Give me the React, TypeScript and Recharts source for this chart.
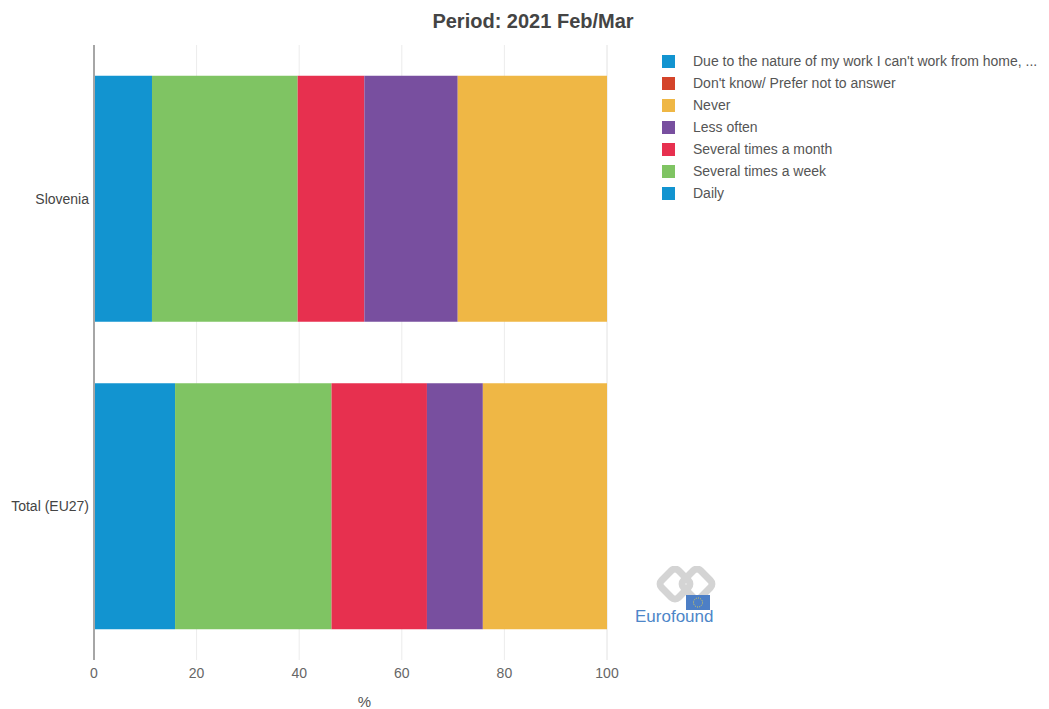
import React from "react";
import {
  BarChart,
  Bar,
  XAxis,
  YAxis,
  CartesianGrid,
  Label,
} from "recharts";

// Share of respondents (%) by frequency of working from home
const countries = ["Slovenia", "Total (EU27)"];
const daily = [11.3, 15.8];
const severalWeek = [28.4, 30.5];
const severalMonth = [13.0, 18.6];
const lessOften = [18.2, 10.9];
const never = [29.1, 24.2];
const dontKnow = [0, 0];
const cantWorkFromHome = [0, 0];

const xTicks = [0, 20, 40, 60, 80, 100];

// stacking order, left to right
const series = [
  { key: "daily", name: "Daily", color: "#1294d0", values: daily },
  { key: "week", name: "Several times a week", color: "#7fc463", values: severalWeek },
  { key: "month", name: "Several times a month", color: "#e7304f", values: severalMonth },
  { key: "less", name: "Less often", color: "#784f9f", values: lessOften },
  { key: "never", name: "Never", color: "#efb745", values: never },
  { key: "dk", name: "Don't know/ Prefer not to answer", color: "#d4442a", values: dontKnow },
  {
    key: "nature",
    name: "Due to the nature of my work I can't work from home, ...",
    color: "#1294d0",
    values: cantWorkFromHome,
  },
];

const rows = countries.map((country, i) => {
  const row: Record<string, string | number> = { country };
  series.forEach((s) => {
    row[s.key] = s.values[i];
  });
  return row;
});

const FONT = "'Liberation Sans', Arial, sans-serif";

const LegendList = () => (
  <ul
    style={{
      position: "absolute",
      left: 662,
      top: 50,
      listStyle: "none",
      margin: 0,
      padding: 0,
      fontFamily: FONT,
    }}
  >
    {[...series].reverse().map((s) => (
      <li
        key={s.key}
        style={{
          display: "flex",
          alignItems: "center",
          height: 22,
          fontSize: 14,
          color: "#555",
          whiteSpace: "nowrap",
        }}
      >
        <span
          style={{
            display: "inline-block",
            width: 13,
            height: 13,
            background: s.color,
            marginRight: 18,
          }}
        />
        {s.name}
      </li>
    ))}
  </ul>
);

const EurofoundLogo = () => (
  <svg width={90} height={64} style={{ position: "absolute", left: 630, top: 566 }}>
    <g fill="none" stroke="#d4d4d4" strokeWidth={7} strokeLinejoin="round">
      <rect x={33} y={6} width={24} height={24} rx={5} transform="rotate(45 45 18)" />
      <rect x={55} y={6} width={24} height={24} rx={5} transform="rotate(45 67 18)" />
    </g>
    <rect x={56} y={29} width={24} height={15} fill="#4d7fc6" />
    <circle
      cx={68}
      cy={36.5}
      r={4.5}
      fill="none"
      stroke="#e8d44a"
      strokeWidth={1}
      strokeDasharray="1 1.3"
    />
    <text x={5} y={56} fontFamily={FONT} fontSize={17} fill="#4d86c8">
      Eurofound
    </text>
  </svg>
);

export default function App() {
  return (
    <div
      style={{
        position: "absolute",
        left: 0,
        top: 0,
        width: 1049,
        height: 709,
        background: "#fff",
      }}
    >
      <div
        style={{
          position: "absolute",
          left: 0,
          width: 1066,
          top: 10,
          textAlign: "center",
          fontFamily: FONT,
          fontWeight: "bold",
          fontSize: 20,
          color: "#444",
        }}
      >
        Period: 2021 Feb/Mar
      </div>
      <BarChart
        width={1049}
        height={709}
        data={rows}
        layout="vertical"
        barCategoryGap="10%"
        margin={{ top: 45, right: 442, bottom: 0, left: 0 }}
      >
        <CartesianGrid horizontal={false} stroke="#ececec" />
        <XAxis
          type="number"
          domain={[0, 100]}
          ticks={xTicks}
          axisLine={false}
          tickLine={false}
          height={49}
          tick={{ fontSize: 14, fill: "#666", fontFamily: FONT }}
        >
          <Label
            value="%"
            position="insideBottom"
            offset={2}
            dx={14}
            style={{ fontSize: 15, fill: "#555", fontFamily: FONT }}
          />
        </XAxis>
        <YAxis
          type="category"
          dataKey="country"
          width={94}
          axisLine={{ stroke: "#a6a6a6", strokeWidth: 2 }}
          tickLine={false}
          tickSize={0}
          tickMargin={5}
          tick={{ fontSize: 14, fill: "#444", fontFamily: FONT }}
        />
        {series.map((s) => (
          <Bar
            key={s.key}
            dataKey={s.key}
            name={s.name}
            stackId="a"
            fill={s.color}
            isAnimationActive={false}
          />
        ))}
      </BarChart>
      <LegendList />
      <EurofoundLogo />
    </div>
  );
}
